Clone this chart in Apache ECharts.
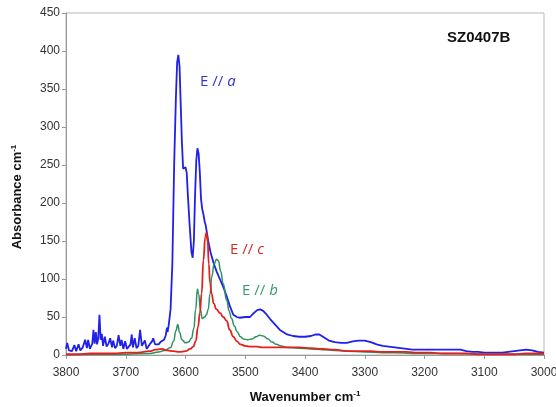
<!DOCTYPE html>
<html>
<head>
<meta charset="utf-8">
<script src="https://cdn.jsdelivr.net/npm/echarts@6/dist/echarts.min.js"></script>
<style>
  html, body { margin: 0; padding: 0; background: #fff; }
  #chart-container { width: 556px; height: 407px; }
</style>
</head>
<body>
<div id="chart-container"></div>
<script>
// E // a (blue)
var waveA = [3800, 3798, 3795, 3790, 3786, 3783, 3779, 3776, 3772, 3768, 3765, 3763, 3760, 3756, 3754, 3752, 3750, 3748, 3746, 3744,
  3742, 3740, 3738, 3735, 3732, 3729, 3726, 3723, 3721, 3718, 3715, 3712, 3709, 3707, 3704, 3701, 3698, 3695, 3692, 3690,
  3688, 3685, 3682, 3679, 3676, 3673, 3670, 3668, 3665, 3662, 3659, 3656, 3654, 3651, 3648, 3645, 3642, 3639, 3636, 3633,
  3631, 3630, 3628, 3625, 3622, 3619, 3616, 3614, 3612, 3610, 3608, 3606, 3604, 3602, 3600, 3598, 3596, 3593, 3590, 3588,
  3586, 3584, 3582, 3580, 3578, 3576, 3574, 3572, 3570, 3568, 3566, 3562, 3558, 3553, 3548, 3542, 3536, 3531, 3526, 3520,
  3514, 3509, 3500, 3492, 3486, 3480, 3475, 3470, 3464, 3458, 3450, 3442, 3430, 3420, 3410, 3400, 3390, 3382, 3376, 3370,
  3360, 3350, 3340, 3330, 3320, 3310, 3300, 3290, 3280, 3270, 3260, 3250, 3240, 3230, 3220, 3210, 3200, 3190, 3180, 3170,
  3160, 3150, 3140, 3130, 3120, 3110, 3100, 3090, 3080, 3070, 3060, 3050, 3040, 3030, 3020, 3010, 3000];
var absA = [8, 16, 6, 5, 13, 5, 14, 6, 10, 20, 9, 20, 8, 15, 33, 15, 30, 14, 22, 53,
  20, 28, 12, 24, 11, 15, 22, 10, 19, 9, 12, 26, 12, 20, 8, 18, 8, 10, 14, 27,
  10, 22, 9, 12, 33, 12, 10, 19, 8, 10, 15, 18, 22, 14, 13, 14, 17, 18, 20, 26,
  36, 30, 40, 60, 120, 250, 340, 385, 395, 380, 330, 280, 245, 243, 247, 240, 210, 170, 135, 128,
  150, 210, 255, 272, 265, 240, 205, 192, 185, 176, 170, 150, 135, 121, 110, 99, 88, 77, 65, 53,
  50, 49, 50, 50, 55, 59, 60, 58, 53, 47, 40, 33, 27, 25, 24, 24, 25, 27, 27, 24,
  19, 17, 16, 16, 18, 19, 19, 17, 14, 12, 11, 10, 9, 8, 7, 7, 7, 7, 7, 7,
  7, 7, 7, 5, 4, 4, 3, 3, 3, 3, 4, 5, 6, 7, 6, 4, 3];

// E // b (green)
var waveB = [3800, 3750, 3700, 3660, 3645, 3635, 3625, 3620, 3616, 3613, 3610, 3606, 3600, 3595, 3590, 3586, 3583, 3580, 3578, 3575,
  3572, 3568, 3565, 3562, 3559, 3556, 3552, 3548, 3545, 3541, 3537, 3531, 3527, 3523, 3518, 3514, 3508, 3503, 3496, 3489,
  3482, 3476, 3470, 3462, 3455, 3448, 3440, 3430, 3410, 3390, 3370, 3350, 3330, 3300, 3270, 3250, 3220, 3200, 3150, 3100,
  3050, 3000];
var absB = [0, 1, 1, 2, 4, 6, 10, 18, 32, 40, 30, 20, 16, 17, 22, 35, 60, 87, 80, 60,
  48, 50, 53, 60, 80, 103, 120, 126, 124, 110, 94, 72, 58, 48, 38, 31, 24, 21, 20, 21,
  24, 26, 25, 21, 17, 14, 12, 10, 9, 8, 7, 6, 5, 4, 3, 3, 2, 2, 2, 1,
  1, 1];

// E // c (red)
var waveC = [3800, 3780, 3760, 3740, 3720, 3700, 3680, 3660, 3650, 3640, 3630, 3620, 3610, 3600, 3592, 3587, 3583, 3579, 3576, 3573,
  3570, 3567, 3565, 3563, 3561, 3559, 3556, 3553, 3548, 3542, 3537, 3531, 3526, 3520, 3514, 3508, 3500, 3490, 3480, 3470,
  3450, 3430, 3410, 3390, 3370, 3350, 3330, 3310, 3290, 3270, 3250, 3230, 3210, 3190, 3170, 3150, 3130, 3110, 3090, 3070,
  3050, 3030, 3010, 3000];
var absC = [1, 1, 2, 2, 2, 3, 3, 5, 7, 8, 6, 5, 4, 5, 8, 11, 18, 37, 55, 81,
  125, 155, 161, 150, 120, 95, 80, 68, 60, 55, 50, 45, 33, 24, 18, 14, 12, 11, 11, 10,
  10, 10, 10, 9, 8, 7, 5, 5, 5, 4, 4, 4, 3, 3, 2, 2, 2, 1, 1, 1,
  1, 2, 2, 2];

var seriesNames = ["E // a", "E // b", "E // c"];
var seriesColors = ["#2020e8", "#2e9160", "#e3201c"];

function zip(xs, ys) {
  return xs.map(function (x, i) { return [x, ys[i]]; });
}

var dom = document.getElementById("chart-container");
var myChart = echarts.init(dom, null, { renderer: "canvas" });

var axisFont = "Liberation Sans, Arial, sans-serif";
var labelFont = "Open Sans, Liberation Sans, sans-serif";
var supStyle = { fontSize: 8, fontWeight: "bold", verticalAlign: "top", padding: [0, 0, 7, 0] };

var option = {
  backgroundColor: "#fff",
  animation: false,
  grid: {
    left: 66, right: 12, top: 13, bottom: 52,
    outerBoundsMode: "none",
    containLabel: false,
    show: true, borderColor: "#b8b8b8", borderWidth: 1
  },
  xAxis: {
    type: "value",
    min: 3000, max: 3800, interval: 100,
    inverse: true,
    name: "Wavenumber cm{sup|-1}",
    nameLocation: "middle",
    nameGap: 35,
    nameTextStyle: {
      fontFamily: axisFont, fontSize: 13, fontWeight: "bold", color: "#111",
      rich: { sup: supStyle }
    },
    axisLine: { show: true, lineStyle: { color: "#999" } },
    axisTick: { show: true, length: 4, lineStyle: { color: "#999" } },
    axisLabel: {
      fontFamily: axisFont, fontSize: 12, color: "#333", margin: 12,
      formatter: function (v) { return String(v); }
    },
    splitLine: { show: false }
  },
  yAxis: {
    type: "value",
    min: 0, max: 450, interval: 50,
    name: "Absorbance cm{sup|-1}",
    nameLocation: "middle",
    nameRotate: 90,
    nameGap: 41,
    nameTextStyle: {
      fontFamily: axisFont, fontSize: 13, fontWeight: "bold", color: "#111",
      padding: [0, 26, 0, 0],
      rich: { sup: supStyle }
    },
    axisLine: { show: true, lineStyle: { color: "#999" } },
    axisTick: { show: true, length: 4, lineStyle: { color: "#999" } },
    axisLabel: { fontFamily: axisFont, fontSize: 12, color: "#333", margin: 6 },
    splitLine: { show: false }
  },
  series: [
    {
      name: seriesNames[0], type: "line", data: zip(waveA, absA),
      showSymbol: false, smooth: false, z: 2,
      lineStyle: { color: seriesColors[0], width: 1.8 }
    },
    {
      name: seriesNames[1], type: "line", data: zip(waveB, absB),
      showSymbol: false, smooth: true, smoothMonotone: "x", z: 3,
      lineStyle: { color: seriesColors[1], width: 1.5 }
    },
    {
      name: seriesNames[2], type: "line", data: zip(waveC, absC),
      showSymbol: false, smooth: true, smoothMonotone: "x", z: 4,
      lineStyle: { color: seriesColors[2], width: 1.8 }
    }
  ],
  graphic: [
    {
      type: "text", left: 447, top: 30,
      style: { text: "SZ0407B", fontFamily: axisFont, fontSize: 15, fontWeight: "bold", fill: "#111" }
    },
    {
      type: "text", left: 200, top: 74,
      style: {
        text: "E // {i|a}", fontFamily: labelFont, fontSize: 15, fill: "#3535c8",
        rich: { i: { fontStyle: "italic", fontFamily: labelFont, fontSize: 15, fill: "#3535c8" } }
      }
    },
    {
      type: "text", left: 230, top: 242,
      style: {
        text: "E // {i|c}", fontFamily: labelFont, fontSize: 15, fill: "#d42a2a",
        rich: { i: { fontStyle: "italic", fontFamily: labelFont, fontSize: 15, fill: "#d42a2a" } }
      }
    },
    {
      type: "text", left: 242, top: 283,
      style: {
        text: "E // {i|b}", fontFamily: labelFont, fontSize: 15, fill: "#3a9a6e",
        rich: { i: { fontStyle: "italic", fontFamily: labelFont, fontSize: 15, fill: "#3a9a6e" } }
      }
    }
  ]
};

if (option && typeof option === "object") {
  myChart.setOption(option);
}
</script>
</body>
</html>
